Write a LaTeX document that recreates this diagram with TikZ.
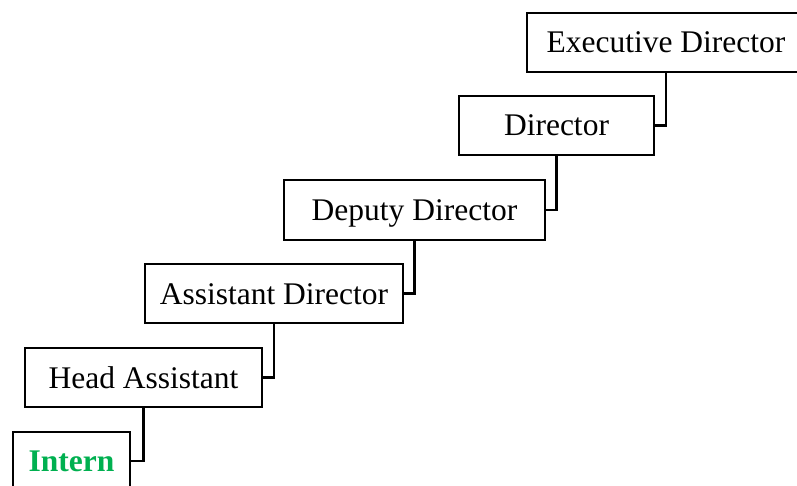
\documentclass[tikz,border=0pt]{standalone}
\usepackage{fontspec}
\setmainfont{Liberation Serif}
\definecolor{interngreen}{RGB}{0,176,80}
\tikzset{
  rank/.style={draw=black, line width=2.5pt, fill=white, inner sep=0pt,
    font=\fontsize{31.5}{34}\selectfont, text height=21pt, text depth=0pt},
  link/.style={draw=black, line width=2.4pt}
}
\begin{document}
\begin{tikzpicture}[x=1pt, y=-1pt]
  \useasboundingbox (0,0) rectangle (797,486);
  % ladder of positions, lowest first
  \node[rank, minimum width=117pt, minimum height=58pt] (intern) at (71.5,461)
    {\textcolor{interngreen}{\bfseries Intern}};
  \node[rank, minimum width=237pt, minimum height=59pt] (head) at (143.5,377.5) {Head Assistant};
  \node[rank, minimum width=258pt, minimum height=59pt] (asst) at (274,293.5) {Assistant Director};
  \node[rank, minimum width=261pt, minimum height=60pt] (deputy) at (414.5,210) {Deputy Director};
  \node[rank, minimum width=195pt, minimum height=59pt] (director) at (556.5,125.5) {Director};
  \node[rank, minimum width=278pt, minimum height=59pt] (exec) at (666,42.5) {Executive Director};
  % each rank hangs from the one above it
  \draw[link] (head.south) |- (intern.east);
  \draw[link] (asst.south) |- (head.east);
  \draw[link] (deputy.south) |- (asst.east);
  \draw[link] (director.south) |- (deputy.east);
  \draw[link] (exec.south) |- (director.east);
\end{tikzpicture}
\end{document}
